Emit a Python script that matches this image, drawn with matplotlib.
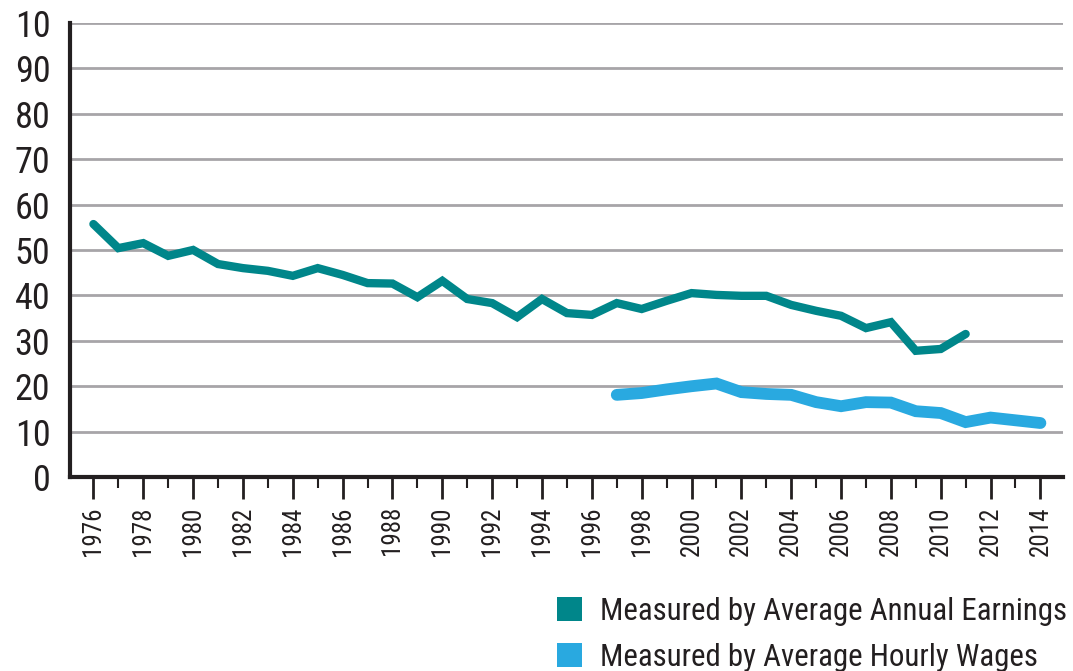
import matplotlib
matplotlib.use("Agg")
import matplotlib.pyplot as plt
from matplotlib import font_manager
from matplotlib.patches import Patch
from matplotlib.ticker import MultipleLocator

available = {f.name for f in font_manager.fontManager.ttflist}
candidates = ['Liberation Sans Narrow', 'Roboto Condensed', 'Open Sans Condensed',
              'Arial Narrow', 'Liberation Sans']
main_font = next((c for c in candidates if c in available), 'DejaVu Sans')
plt.rcParams['font.family'] = [main_font, 'DejaVu Sans']

annual_years = list(range(1976, 2012))
annual_values = [55.7, 50.4, 51.5, 48.7, 50.0, 46.9, 46.0, 45.4, 44.3, 46.0,
                 44.5, 42.7, 42.6, 39.6, 43.2, 39.2, 38.3, 35.2, 39.2, 36.1,
                 35.7, 38.3, 37.0, 38.8, 40.5, 40.1, 39.9, 39.9, 37.9, 36.6,
                 35.5, 32.8, 34.1, 27.8, 28.2, 31.5]

hourly_years = list(range(1997, 2015))
hourly_values = [18.1, 18.5, 19.3, 20.0, 20.6, 18.7, 18.3, 18.1, 16.5, 15.6,
                 16.5, 16.4, 14.5, 14.1, 12.1, 13.1, 12.5, 11.9]

y_ticks = [0, 10, 20, 30, 40, 50, 60, 70, 80, 90, 100]
y_tick_labels = ["0", "10", "20", "30", "40", "50", "60", "70", "80", "90", "10"]
x_ticks = list(range(1976, 2015, 2))

label_annual = "Measured by Average Annual Earnings"
label_hourly = "Measured by Average Hourly Wages"

teal = "#00868A"
blue = "#29A9E0"
ink = "#231F20"

fig = plt.figure(figsize=(10.73, 6.71), dpi=100)
ax = fig.add_axes([0.065, 0.289, 0.926, 0.677])

ax.plot(annual_years, annual_values, color=teal, lw=6, solid_capstyle='round',
        solid_joinstyle='miter', zorder=3)
ax.plot(hourly_years, hourly_values, color=blue, lw=8.5, solid_capstyle='round',
        solid_joinstyle='miter', zorder=3)

ax.set_xlim(1975.05, 2014.92)
ax.set_ylim(0, 100)
ax.set_yticks(y_ticks)
ax.set_yticklabels(y_tick_labels, fontsize=26)
ax.set_xticks(x_ticks)
ax.set_xticklabels([str(x) for x in x_ticks], rotation=90, fontsize=18)
ax.xaxis.set_minor_locator(MultipleLocator(1))

ax.tick_params(axis='y', length=0, pad=14, labelcolor=ink)
ax.tick_params(axis='x', which='major', length=16, width=2, direction='out',
               pad=5, labelcolor=ink, color=ink)
ax.tick_params(axis='x', which='minor', length=8, width=1.5, direction='out',
               color=ink)

ax.grid(axis='y', color='#A7A5A8', lw=2, zorder=1)
ax.set_axisbelow(True)
for s in ['top', 'right']:
    ax.spines[s].set_visible(False)
for s in ['left', 'bottom']:
    ax.spines[s].set_linewidth(3)
    ax.spines[s].set_color(ink)

# fit legend font size so the longer label spans about 466 px
renderer = fig.canvas.get_renderer()
probe = fig.text(0, 0, label_annual, fontsize=20)
w = probe.get_window_extent(renderer).width
probe.remove()
leg_fs = min(25, 20 * 466 / w)
px = leg_fs * 100 / 72

handles = [Patch(facecolor=teal, edgecolor='none', label=label_annual),
           Patch(facecolor=blue, edgecolor='none', label=label_hourly)]
fig.legend(handles=handles, loc='upper left', bbox_to_anchor=(0.519, 0.111),
           frameon=False, fontsize=leg_fs, handlelength=25 / px,
           handleheight=25 / px, handletextpad=18 / px,
           labelspacing=0.55, labelcolor=ink,
           borderaxespad=0, borderpad=0)

fig.savefig("out.png", dpi=100)
